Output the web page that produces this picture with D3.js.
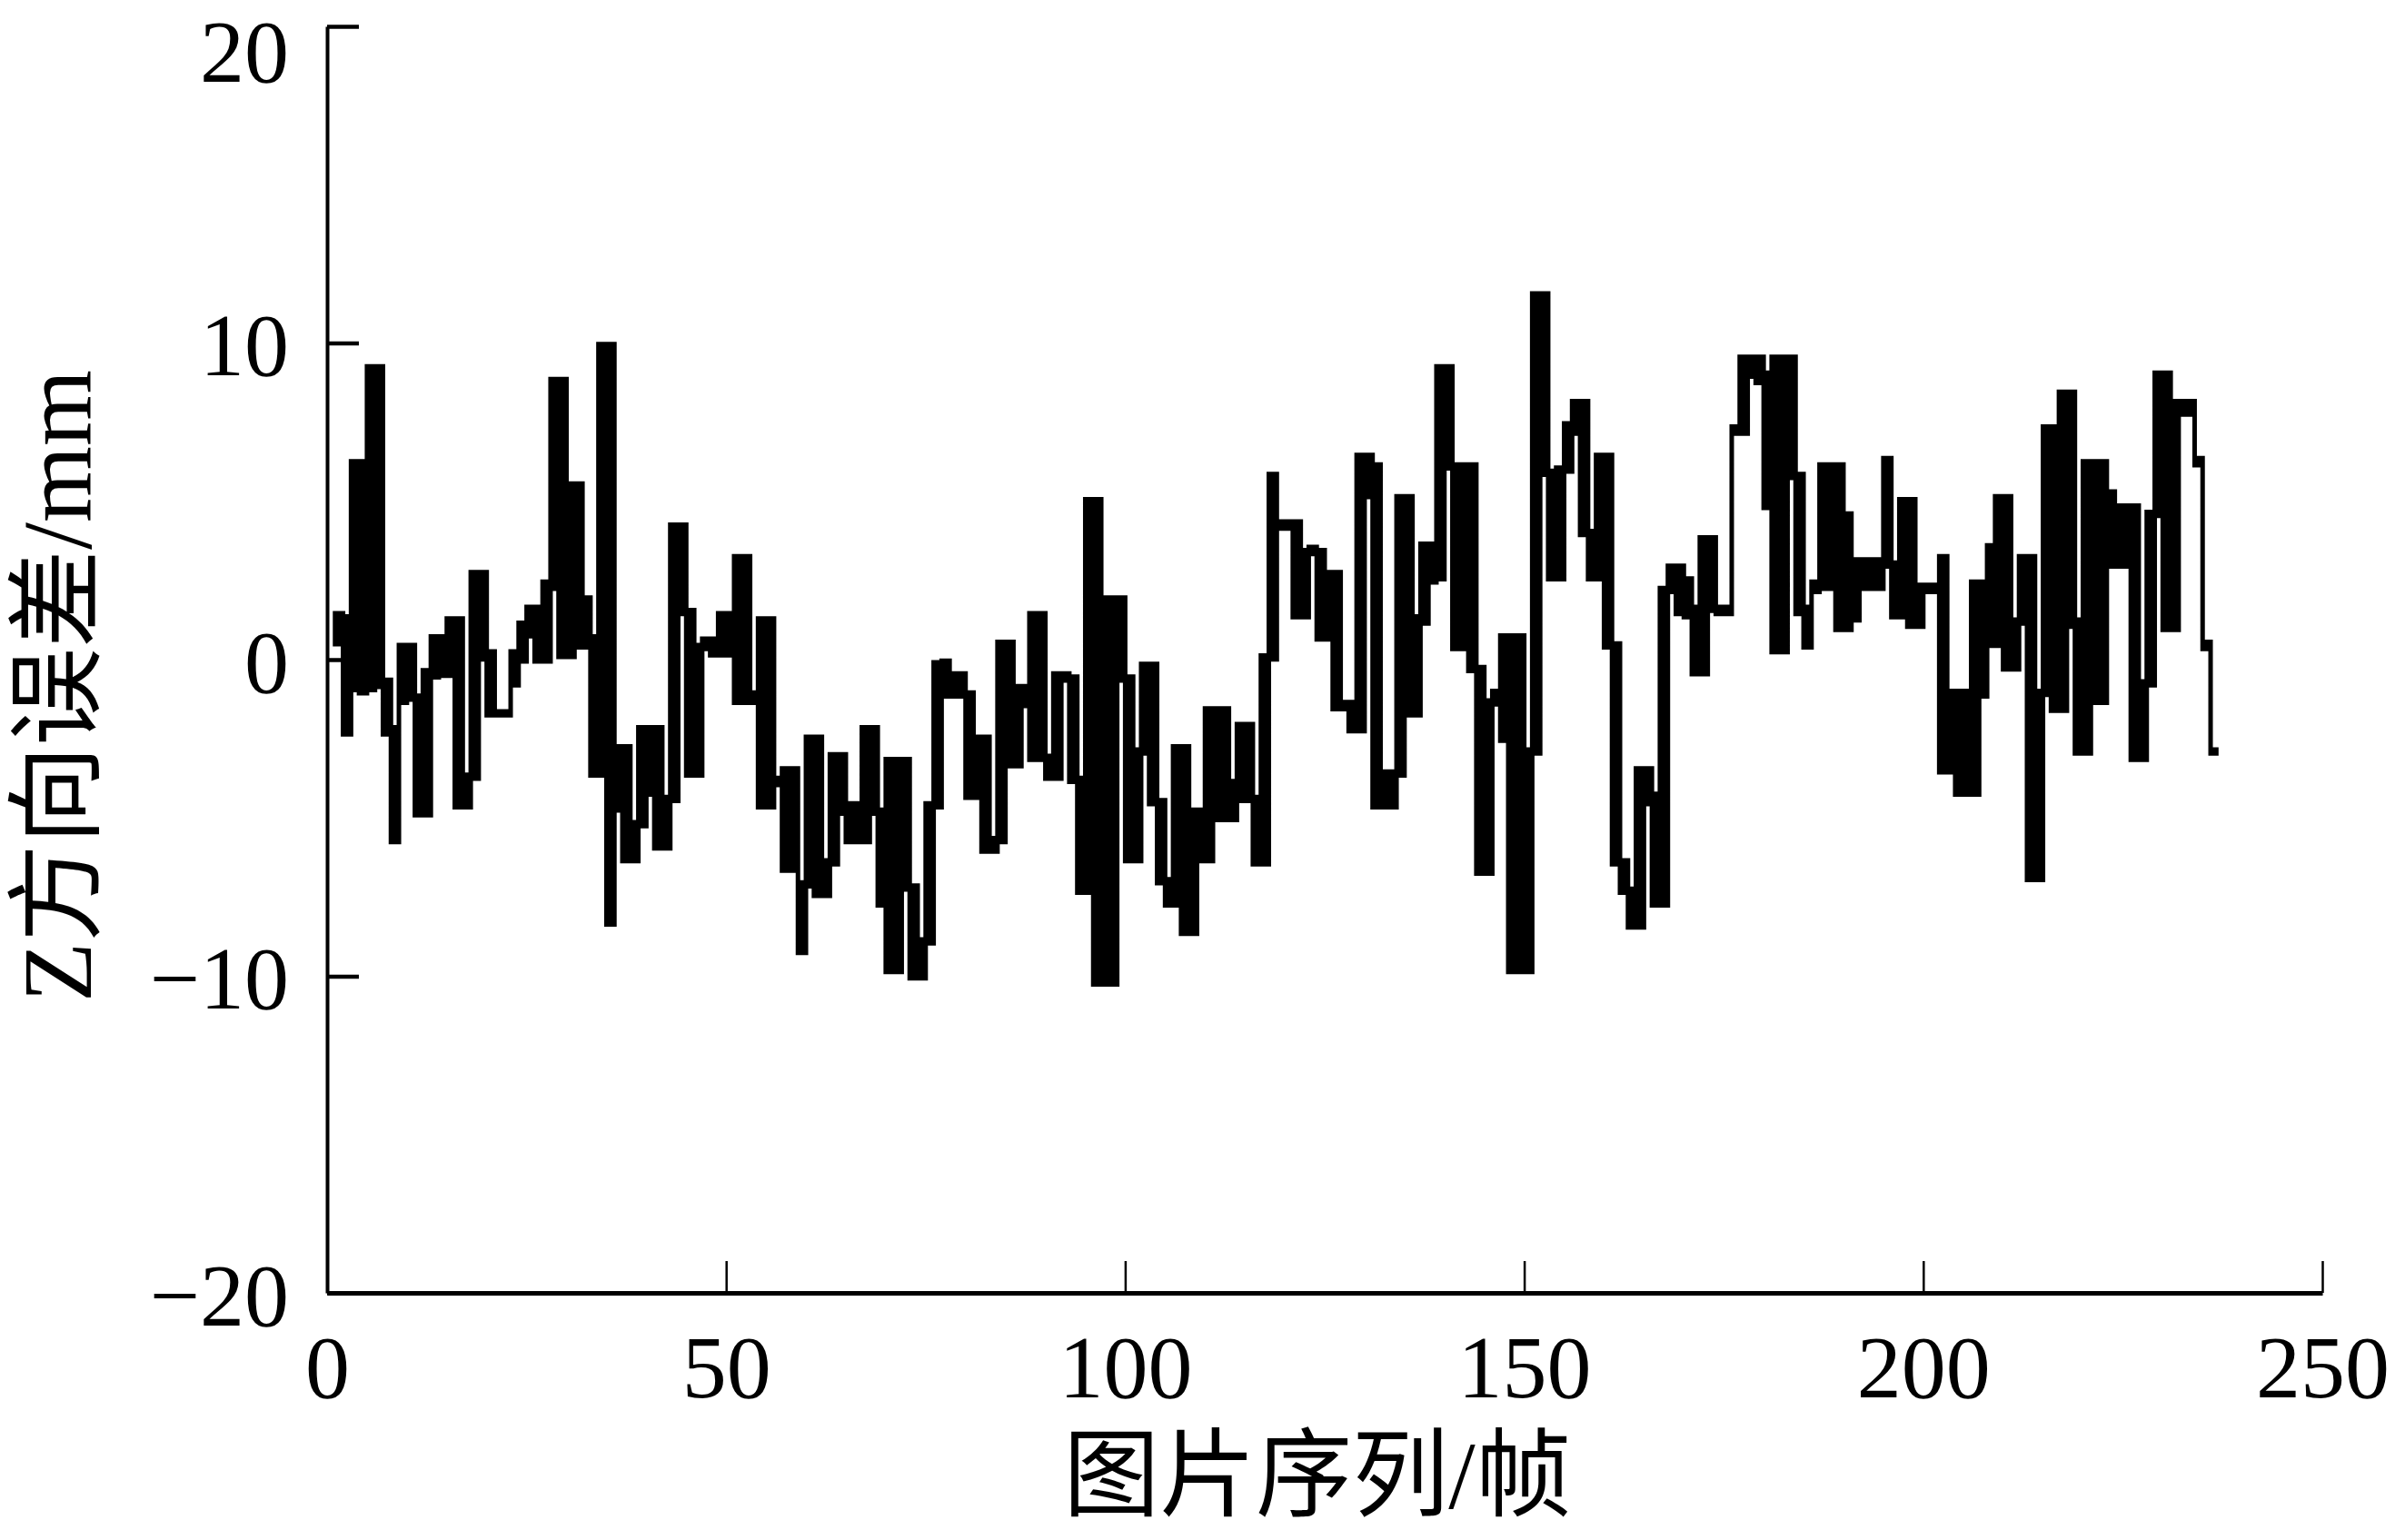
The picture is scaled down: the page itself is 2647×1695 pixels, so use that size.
<!DOCTYPE html>
<html>
<head>
<meta charset="utf-8">
<script src="https://cdn.jsdelivr.net/npm/d3@7"></script>
<style>
body { margin: 0; background: #fff; }
text { font-family: "Liberation Serif", "Noto Sans CJK SC", serif; fill: #000; }
</style>
</head>
<body>
<svg id="chart" width="2647" height="1695"></svg>
<script>
// frame numbers 1..236
const frames = d3.range(1, 237);

// per frame, the low and high end of the Z error (mm) drawn in that frame
const errLow = [
  0.55, -2.3, -0.9, -1.0, -0.9, -0.8, -2.3, -5.7, -1.3, -1.2,
  -4.85, -4.85, -0.5, -0.45, -0.45, -4.6, -4.6, -3.7, 0.07, -1.7,
  -1.7, -1.7, -0.75, 0.0, 0.8, 0.0, 0.0, 2.3, 0.15, 0.15,
  0.45, 0.45, -3.6, -3.6, -8.3, -4.7, -6.3, -6.3, -5.2, -4.2,
  -5.9, -5.9, -4.4, 1.5, -3.6, -3.6, 0.4, 0.2, 0.2, 0.2,
  -1.3, -1.3, -1.3, -4.6, -4.6, -3.9, -6.6, -6.6, -9.2, -7.1,
  -7.4, -7.4, -6.4, -4.8, -5.7, -5.7, -5.7, -4.8, -7.7, -9.8,
  -9.8, -7.2, -10.0, -10.0, -8.9, -4.6, -1.1, -1.1, -1.1, -4.3,
  -4.3, -6.0, -6.0, -5.7, -3.3, -3.3, -1.4, -3.1, -3.1, -3.7,
  -3.7, -0.6, -3.8, -7.3, -7.3, -10.2, -10.2, -10.2, -0.6, -6.3,
  -6.3, -2.9, -4.5, -7.0, -7.7, -7.7, -8.6, -8.6, -6.3, -6.3,
  -5.0, -5.0, -5.0, -4.4, -4.4, -6.4, -6.4, 0.07, 4.2, 4.2,
  1.4, 1.4, 3.4, 0.7, 0.7, -1.5, -1.5, -2.2, -2.2, 5.2,
  -4.6, -4.6, -4.6, -3.6, -1.7, -1.7, 1.2, 2.5, 2.6, 6.1,
  0.4, 0.4, -0.3, -6.7, -6.7, -1.35, -2.5, -9.8, -9.8, -9.8,
  -2.9, 5.9, 2.6, 2.6, 6.0, 7.2, 4.0, 2.6, 2.6, 0.45,
  -6.4, -7.3, -8.4, -8.4, -4.5, -7.7, -7.7, 2.2, 1.5, 1.4,
  -0.4, -0.4, 1.6, 1.5, 1.5, 7.2, 7.2, 9.0, 8.8, 4.85,
  0.3, 0.3, 5.8, 1.5, 0.45, 2.2, 2.3, 2.3, 1.0, 1.0,
  1.3, 2.3, 2.3, 2.3, 3.0, 1.4, 1.4, 1.1, 1.1, 2.2,
  2.2, -3.5, -3.5, -4.2, -4.2, -4.2, -1.1, 0.5, 0.5, -0.25,
  -0.25, 1.2, -6.9, -6.9, -1.05, -1.55, -1.55, 1.1, -2.9, -2.9,
  -1.3, -1.3, 3.0, 3.0, 3.0, -3.1, -3.1, -0.75, 4.6, 1.0,
  1.0, 7.8, 7.8, 6.2, 0.4, -2.9
];
const errHigh = [
  1.4, 1.3, 6.2, 6.2, 9.2, 9.2, -0.7, -2.2, 0.4, 0.4,
  -1.2, -0.4, 0.67, 0.67, 1.24, 1.24, -3.7, 2.7, 2.7, 0.2,
  -1.7, -1.7, 0.2, 1.1, 1.6, 1.6, 2.4, 8.8, 8.8, 5.5,
  5.5, 1.9, 0.67, 9.9, 9.9, -2.8, -2.8, -5.2, -2.2, -2.2,
  -2.2, -4.4, 4.2, 4.2, 1.5, 0.4, 0.6, 0.6, 1.4, 1.4,
  3.2, 3.2, -1.1, 1.24, 1.24, -3.8, -3.5, -3.5, -7.1, -2.5,
  -2.5, -6.4, -3.05, -3.05, -4.6, -4.6, -2.2, -2.2, -4.8, -3.2,
  -3.2, -3.2, -7.2, -8.9, -4.6, -0.15, -0.1, -0.5, -0.5, -1.1,
  -2.5, -2.5, -5.7, 0.5, 0.5, -0.9, -0.9, 1.4, 1.4, -3.1,
  -0.5, -0.5, -0.6, -3.8, 5.0, 5.0, 1.9, 1.9, 1.9, -0.6,
  -2.9, -0.2, -0.2, -4.5, -7.0, -2.8, -2.8, -4.8, -4.8, -1.6,
  -1.6, -1.6, -3.9, -2.1, -2.1, -4.4, 0.07, 5.8, 4.3, 4.3,
  4.3, 3.4, 3.5, 3.4, 2.7, 2.7, -1.4, -1.4, 6.4, 6.4,
  6.1, -3.6, -3.6, 5.1, 5.1, 1.3, 3.6, 3.6, 9.2, 9.2,
  6.1, 6.1, 6.1, -0.3, -1.35, -1.05, 0.7, 0.7, 0.7, -2.9,
  11.5, 11.5, 5.9, 6.0, 7.4, 8.1, 8.1, 4.0, 6.4, 6.4,
  0.45, -6.4, -7.3, -3.5, -3.5, -4.3, 2.2, 2.9, 2.9, 2.5,
  1.6, 3.8, 3.8, 1.6, 1.6, 7.3, 9.5, 9.5, 9.5, 9.0,
  9.5, 9.5, 9.5, 5.8, 1.6, 2.4, 6.1, 6.1, 6.1, 4.55,
  3.1, 3.1, 3.1, 3.1, 6.3, 3.0, 5.0, 5.0, 2.3, 2.3,
  2.3, 3.2, -1.05, -1.05, -1.05, 2.4, 2.4, 3.55, 5.1, 5.1,
  1.2, 3.2, 3.2, -1.05, 7.3, 7.3, 8.4, 8.4, 1.2, 6.2,
  6.2, 6.2, 5.25, 4.8, 4.8, 4.8, -0.75, 4.6, 9.0, 9.0,
  8.1, 8.1, 8.1, 6.3, 0.5, -2.9
];

const xTicks = [0, 50, 100, 150, 200, 250];
const yTicks = [-20, -10, 0, 10, 20];
const xTitle = "图片序列/帧";
const yTitle = "Z方向误差/mm";

const WIDTH = 2647;
const HEIGHT = 1695;
// horizontal strokes in the original are about twice as thick as vertical ones
const STRETCH = 1.85;

function drawChart() {
    let svg = d3.select("#chart");
    svg.append("rect").attr("width", WIDTH).attr("height", HEIGHT).attr("fill", "#fff");

    let x = d3.scaleLinear().domain([0, 250]).range([360, 2556]);
    let y = d3.scaleLinear().domain([-20, 20]).range([1423, 29]);

    let points = frames.map((f, i) => ({ frame: f, lo: errLow[i], hi: errHigh[i] }));
    // close the last step one frame later
    let last = points[points.length - 1];
    points.push({ frame: last.frame + 1, lo: last.lo, hi: last.hi });

    let area = d3.area()
        .curve(d3.curveStepAfter)
        .x(d => x(d.frame))
        .y0(d => y(d.lo) / STRETCH)
        .y1(d => y(d.hi) / STRETCH);

    svg.append("g")
        .attr("transform", "scale(1," + STRETCH + ")")
        .append("path")
            .datum(points)
            .attr("d", area)
            .attr("fill", "#000")
            .attr("stroke", "#000")
            .attr("stroke-width", 5)
            .attr("stroke-linejoin", "miter");

    // Y axis, ticks pointing inward
    let gy = svg.append("g")
        .attr("transform", "translate(" + x(0) + ",0)")
        .call(d3.axisLeft(y).tickValues(yTicks).tickSize(-35).tickSizeOuter(0).tickPadding(42));
    gy.select(".domain").attr("stroke-width", 4);
    gy.selectAll(".tick line").attr("stroke-width", 4.5);
    gy.selectAll(".tick text")
        .attr("font-size", 98)
        .attr("dy", d => d === 20 ? "0.62em" : "0.36em");

    // X axis
    let gx = svg.append("g")
        .attr("transform", "translate(0," + y(-20) + ")")
        .call(d3.axisBottom(x).tickValues(xTicks).tickSize(-35).tickSizeOuter(0).tickPadding(45));
    gx.select(".domain").attr("stroke-width", 5);
    gx.selectAll(".tick line").attr("stroke-width", 2.5);
    gx.selectAll(".tick text").attr("font-size", 98);

    svg.append("text")
        .attr("x", 1450)
        .attr("y", 1660)
        .attr("text-anchor", "middle")
        .attr("font-size", 106)
        .text(xTitle);

    svg.append("text")
        .attr("transform", "translate(100,755) rotate(-90)")
        .attr("text-anchor", "middle")
        .attr("font-size", 108)
        .text(yTitle);
}

window.addEventListener("load", drawChart);
</script>
</body>
</html>
